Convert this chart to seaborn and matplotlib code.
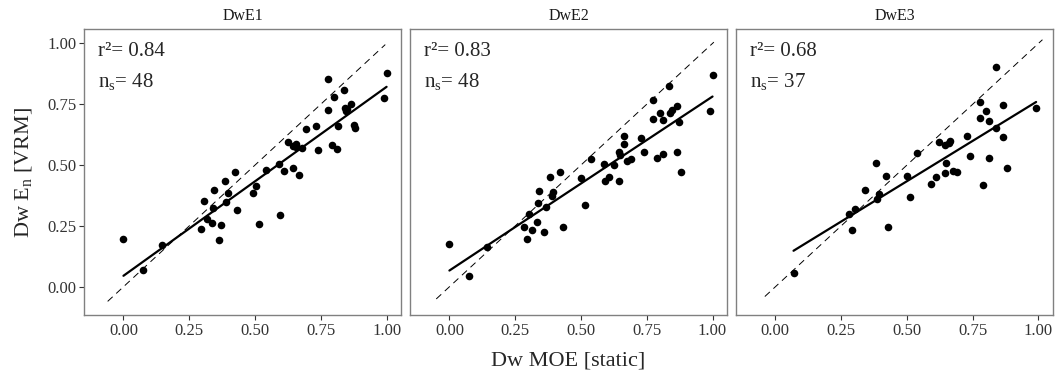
import numpy as np
import pandas as pd
import matplotlib
matplotlib.use("Agg")
import matplotlib.pyplot as plt
import seaborn as sns

# Data (x = Dw MOE static, y = Dw En VRM)
panels = ["DwE1", "DwE2", "DwE3"]
r2_labels = ["0.84", "0.83", "0.68"]
n_labels = ["48", "48", "37"]

e1_x = [0.00, 0.076, 0.145, 0.295, 0.308, 0.318, 0.336, 0.342, 0.343, 0.364,
        0.369, 0.386, 0.391, 0.396, 0.423, 0.433, 0.492, 0.503, 0.516, 0.540,
        0.593, 0.595, 0.610, 0.627, 0.645, 0.646, 0.657, 0.668, 0.677, 0.692,
        0.732, 0.740, 0.777, 0.778, 0.792, 0.802, 0.811, 0.814, 0.838, 0.842,
        0.847, 0.866, 0.876, 0.880, 0.990, 1.00, 0.655, 0.850]
e1_y = [0.195, 0.070, 0.173, 0.239, 0.354, 0.277, 0.261, 0.324, 0.399, 0.193,
        0.255, 0.433, 0.350, 0.385, 0.470, 0.317, 0.384, 0.414, 0.258, 0.480,
        0.503, 0.295, 0.477, 0.596, 0.488, 0.579, 0.585, 0.458, 0.571, 0.649,
        0.660, 0.561, 0.854, 0.725, 0.582, 0.780, 0.566, 0.660, 0.809, 0.735,
        0.724, 0.751, 0.665, 0.654, 0.776, 0.880, 0.575, 0.730]

e2_x = [0.00, 0.074, 0.144, 0.283, 0.293, 0.303, 0.313, 0.333, 0.338, 0.341,
        0.360, 0.366, 0.384, 0.389, 0.393, 0.422, 0.430, 0.500, 0.514, 0.538,
        0.588, 0.591, 0.607, 0.625, 0.643, 0.645, 0.649, 0.662, 0.664, 0.674,
        0.692, 0.729, 0.739, 0.774, 0.775, 0.790, 0.799, 0.811, 0.813, 0.836,
        0.837, 0.847, 0.865, 0.865, 0.874, 0.880, 0.989, 1.00]
e2_y = [0.175, 0.046, 0.163, 0.247, 0.195, 0.299, 0.234, 0.266, 0.343, 0.392,
        0.225, 0.329, 0.451, 0.373, 0.388, 0.470, 0.246, 0.448, 0.335, 0.523,
        0.503, 0.433, 0.449, 0.500, 0.434, 0.553, 0.540, 0.620, 0.585, 0.516,
        0.527, 0.612, 0.553, 0.689, 0.768, 0.531, 0.716, 0.544, 0.687, 0.824,
        0.716, 0.725, 0.743, 0.553, 0.675, 0.470, 0.724, 0.869]

e3_x = [0.069, 0.280, 0.290, 0.302, 0.339, 0.382, 0.388, 0.394, 0.419, 0.429,
        0.499, 0.512, 0.537, 0.592, 0.609, 0.623, 0.643, 0.645, 0.650, 0.663,
        0.676, 0.689, 0.728, 0.740, 0.777, 0.777, 0.789, 0.801, 0.811, 0.813,
        0.837, 0.839, 0.864, 0.864, 0.881, 0.991, 0.660]
e3_y = [0.057, 0.298, 0.232, 0.321, 0.399, 0.510, 0.362, 0.380, 0.454, 0.246,
        0.456, 0.369, 0.551, 0.423, 0.452, 0.596, 0.466, 0.581, 0.507, 0.598,
        0.475, 0.470, 0.619, 0.536, 0.761, 0.693, 0.418, 0.723, 0.531, 0.683,
        0.904, 0.652, 0.747, 0.617, 0.488, 0.735, 0.590]

# 1:1 reference line extent per panel
ref_lo = [-0.06, -0.05, -0.04]
ref_hi = [0.995, 1.005, 1.015]

df = pd.concat([
    pd.DataFrame({"panel": "DwE1", "moe": e1_x, "vrm": e1_y}),
    pd.DataFrame({"panel": "DwE2", "moe": e2_x, "vrm": e2_y}),
    pd.DataFrame({"panel": "DwE3", "moe": e3_x, "vrm": e3_y}),
])

sns.set_theme(style="white")
plt.rcParams["font.family"] = ["Liberation Serif", "DejaVu Serif"]
plt.rcParams["mathtext.fontset"] = "custom"
plt.rcParams["mathtext.rm"] = "Liberation Serif"
plt.rcParams["mathtext.it"] = "Liberation Serif:italic"

fig, axes = plt.subplots(1, 3, figsize=(10.59, 3.80), dpi=100, sharex=True, sharey=True)
plt.subplots_adjust(left=0.0793, right=0.9943, bottom=0.171, top=0.923, wspace=0.028)

ticks = [0.0, 0.25, 0.5, 0.75, 1.0]
for i, (ax, name) in enumerate(zip(axes, panels)):
    sub = df[df["panel"] == name]
    ax.plot([ref_lo[i], ref_hi[i]], [ref_lo[i], ref_hi[i]], color="black",
            lw=0.7, ls=(0, (7, 5)))
    sns.regplot(data=sub, x="moe", y="vrm", ax=ax, ci=None, color="black",
                scatter_kws={"s": 30, "linewidths": 0, "alpha": 1},
                line_kws={"lw": 1.6})
    ax.set_xlim(-0.15, 1.055)
    ax.set_ylim(-0.116, 1.058)
    ax.set_xticks(ticks)
    ax.set_yticks(ticks)
    ax.set_xticklabels([f"{t:.2f}" for t in ticks])
    ax.set_yticklabels([f"{t:.2f}" for t in ticks])
    ax.set_xlabel("")
    ax.set_ylabel("")
    ax.set_title(name, fontsize=11.5, pad=7, color="#1a1a1a")
    for s in ax.spines.values():
        s.set_color("#808080")
        s.set_linewidth(1.0)
    ax.tick_params(axis="both", direction="out", length=3.5, width=0.8,
                   color="#333333", labelsize=12, labelcolor="#333333",
                   bottom=True, left=(i == 0), pad=2)
    ax.text(0.045, 0.955, "r²= " + r2_labels[i], transform=ax.transAxes,
            fontsize=15, va="top", ha="left")
    ax.text(0.045, 0.855, r"$\mathrm{n_s}$= " + n_labels[i], transform=ax.transAxes,
            fontsize=15, va="top", ha="left")

fig.text(0.5365, 0.025, "Dw MOE [static]", ha="center", va="bottom", fontsize=16)
fig.text(0.012, 0.547, r"Dw E$_\mathrm{n}$ [VRM]", ha="left", va="center",
         rotation=90, fontsize=16)

fig.savefig("out.png", dpi=100)
